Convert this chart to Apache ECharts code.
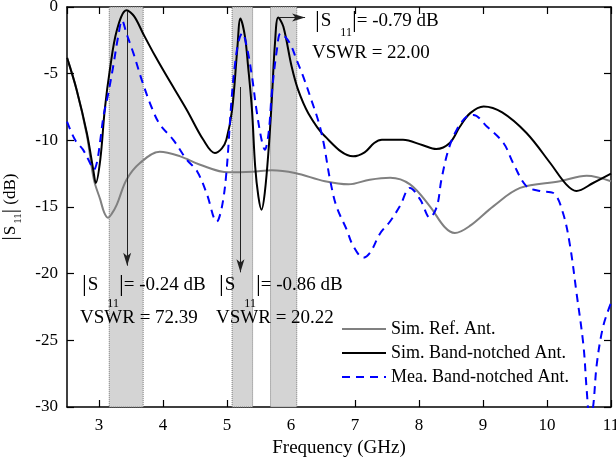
<!DOCTYPE html>
<html>
<head>
<meta charset="utf-8">
<script src="https://cdn.jsdelivr.net/npm/echarts@6/dist/echarts.min.js"></script>
<style>
  html, body { margin: 0; padding: 0; background: #fff; }
  #chart { width: 616px; height: 458px; }
</style>
</head>
<body>
<div id="chart"></div>
<script>
// frequency (GHz), |S11| (dB)
var simRef = [
  [2.5, -3.8], [2.65, -6.2], [2.81, -9.6], [2.92, -12.95], [3.02, -14.45], [3.08, -15.4],
  [3.14, -15.8], [3.2, -15.5], [3.28, -14.8], [3.43, -12.95], [3.64, -11.7], [3.95, -10.85],
  [4.27, -11.2], [4.58, -11.83], [5.02, -12.4], [5.4, -12.35], [5.7, -12.25],
  [6.06, -12.45], [6.53, -13.07], [6.9, -13.3], [7.23, -12.95], [7.55, -12.8], [7.86, -13.3],
  [8.17, -14.95], [8.4, -16.5], [8.56, -16.95], [8.8, -16.4], [9.16, -14.95],
  [9.58, -13.57], [10.2, -13.07], [10.62, -12.65], [11, -13.07]
];
var simNotch = [
  [2.5, -3.8], [2.65, -6.2], [2.81, -9.45], [2.91, -12.2], [2.95, -13.2], [3.02, -11.45],
  [3.09, -7.7], [3.17, -4.7], [3.28, -1.72], [3.43, -0.24], [3.55, -0.7], [3.69, -2.0],
  [3.88, -3.7], [4.06, -5.2], [4.37, -7.7], [4.63, -9.96], [4.81, -10.95], [4.92, -10.6],
  [4.99, -9.96], [5.08, -7.7], [5.16, -3.2], [5.21, -0.86], [5.28, -2.2], [5.33, -4.47],
  [5.39, -7.7], [5.44, -11.95], [5.49, -14.2], [5.54, -15.2], [5.59, -13.95], [5.65, -10.7],
  [5.7, -6.96], [5.75, -2.7], [5.8, -0.79], [5.88, -1.47], [6.01, -4.47], [6.11, -6.2],
  [6.27, -7.96], [6.53, -9.7], [6.97, -11.2], [7.15, -10.9], [7.3, -10.2], [7.42, -9.96],
  [7.75, -9.96], [8.05, -10.35], [8.27, -10.65], [8.48, -10.2], [8.64, -8.96], [8.8, -7.96],
  [9.01, -7.46], [9.3, -7.9], [9.68, -9.45], [10.05, -11.7], [10.3, -13.3], [10.46, -13.8],
  [10.72, -13.2], [11, -12.5]
];
var meaNotch = [
  [2.5, -8.6], [2.63, -10.0], [2.75, -10.7], [2.85, -11.6], [2.92, -12.2], [2.97, -11.6],
  [3.02, -10.0], [3.07, -8.2], [3.14, -6.6], [3.22, -4.5], [3.3, -2.2], [3.36, -1.0],
  [3.43, -2.0], [3.54, -3.5], [3.67, -5.5], [3.82, -7.5], [3.95, -8.8], [4.16, -9.96],
  [4.37, -11.45], [4.53, -12.3], [4.68, -13.95], [4.84, -16.1], [4.92, -15.0], [4.99, -12.45],
  [5.07, -7.0], [5.12, -4.5], [5.18, -2.6], [5.24, -1.95], [5.31, -3.0], [5.39, -5.2],
  [5.46, -7.7], [5.54, -9.96], [5.59, -10.7], [5.65, -9.45], [5.7, -6.46], [5.78, -3.2],
  [5.84, -1.97], [5.98, -2.7], [6.09, -4.0], [6.19, -5.2], [6.32, -7.0], [6.43, -8.6],
  [6.51, -10.2], [6.61, -12.95], [6.71, -14.95], [6.87, -16.7], [6.97, -17.9], [7.13, -18.8],
  [7.24, -18.4], [7.39, -17.0], [7.55, -16.07], [7.7, -14.95], [7.86, -13.57], [8.02, -14.45],
  [8.17, -15.8], [8.28, -14.95], [8.35, -12.95], [8.46, -10.7], [8.59, -9.2],
  [8.75, -8.2], [8.85, -8.1], [9.06, -8.96], [9.32, -10.2], [9.47, -11.7], [9.68, -13.45],
  [9.89, -13.8], [10.1, -13.95], [10.25, -15.45], [10.36, -17.9], [10.46, -21.4],
  [10.57, -25.4], [10.62, -28.7], [10.67, -31], [10.72, -30], [10.78, -26.7], [10.88, -23.9],
  [11, -22.2]
];
var seriesNames = ['Sim. Ref. Ant.', 'Sim. Band-notched Ant.', 'Mea. Band-notched Ant.'];

// notch bands (GHz)
var bands = [[3.16, 3.69], [5.08, 5.40], [5.68, 6.09]];
// arrows: [start, end]
var arrows = [
  [[3.44, -0.3], [3.44, -19.4]],
  [[5.21, -6.0], [5.21, -19.9]],
  [[5.81, -0.79], [6.22, -0.79]]
];
// annotation text: [label, x px, y px]
var notes = [
  ['{b||}{s|S}{sub|11}{b||}{t|= -0.79 dB}', 315, 21],
  ['{t|VSWR = 22.00}', 312, 53],
  ['{b||}{s|S}{subl|11}{b||}{t|= -0.24 dB}', 82, 285],
  ['{t|VSWR = 72.39}', 80, 318],
  ['{b||}{s|S}{subl|11}{b||}{t|= -0.86 dB}', 219, 285],
  ['{t|VSWR = 20.22}', 216, 318]
];

var FONT = 'Liberation Serif';
var richStyle = {
  t: { fontFamily: FONT, fontSize: 19, color: '#000', verticalAlign: 'middle' },
  s: { fontFamily: FONT, fontSize: 19, color: '#000', verticalAlign: 'middle', padding: [0, 0, 0, 1] },
  b: { fontFamily: FONT, fontSize: 24, color: '#000', verticalAlign: 'middle' },
  sub: { fontFamily: FONT, fontSize: 12, lineHeight: 12, color: '#000', verticalAlign: 'middle', padding: [24, 0, 0, 9] },
  subl: { fontFamily: FONT, fontSize: 12, lineHeight: 12, color: '#000', verticalAlign: 'middle', padding: [38, 0, 0, 9] }
};
var richName = {
  t: { fontFamily: FONT, fontSize: 17, color: '#000', verticalAlign: 'middle' },
  s: { fontFamily: FONT, fontSize: 17, color: '#000', verticalAlign: 'middle', padding: [0, 0, 0, 1] },
  b: { fontFamily: FONT, fontSize: 21, color: '#000', verticalAlign: 'middle' },
  sub: { fontFamily: FONT, fontSize: 11, lineHeight: 11, color: '#000', verticalAlign: 'middle', padding: [15, 0, 0, 2] }
};

var chart = echarts.init(document.getElementById('chart'));

var axisCommon = {
  axisLine: { onZero: false, lineStyle: { color: '#000', width: 1.5 } },
  axisTick: { inside: true, length: 7, lineStyle: { color: '#000', width: 1.2 } },
  splitLine: { show: false }
};

var option = {
  backgroundColor: '#fff',
  animation: false,
  grid: { left: 67, top: 7, right: 5, bottom: 51, containLabel: false, outerBoundsMode: 'none' },
  xAxis: [
    Object.assign({
      type: 'value', min: 2.5, max: 11, splitNumber: 8,
      name: 'Frequency (GHz)', nameLocation: 'middle', nameGap: 27,
      nameTextStyle: { fontFamily: FONT, fontSize: 19, color: '#000' },
      axisLabel: { showMinLabel: false, fontFamily: FONT, fontSize: 17, color: '#000', margin: 10 }
    }, axisCommon),
    Object.assign({
      type: 'value', min: 2.5, max: 11, splitNumber: 8, position: 'top',
      axisLabel: { show: false }
    }, axisCommon)
  ],
  yAxis: [
    Object.assign({
      type: 'value', min: -30, max: 0, interval: 5,
      name: '{b||}{s|S}{sub|11}{b||}{t| (dB)}', nameLocation: 'middle', nameGap: 46, nameRotate: 90,
      nameTextStyle: { rich: richName },
      axisLabel: { fontFamily: FONT, fontSize: 17, color: '#000', margin: 9 }
    }, axisCommon),
    Object.assign({
      type: 'value', min: -30, max: 0, interval: 5, position: 'right',
      axisLabel: { show: false }
    }, axisCommon)
  ],
  legend: {
    data: seriesNames,
    orient: 'vertical',
    left: 336, top: 315,
    itemWidth: 44, itemHeight: 12, itemGap: 6,
    itemStyle: { opacity: 0 },
    textStyle: { fontFamily: FONT, fontSize: 18, color: '#000' }
  },
  graphic: notes.map(function (n) {
    return {
      type: 'text', x: n[1], y: n[2], z: 50,
      style: { text: n[0], rich: richStyle, verticalAlign: 'middle' }
    };
  }),
  series: [
    {
      name: 'bands', type: 'line', data: [], z: 1, silent: true,
      markArea: {
        silent: true,
        itemStyle: { color: '#d4d4d4', borderColor: '#777', borderWidth: 1, borderType: 'dotted' },
        data: bands.map(function (b) { return [{ xAxis: b[0] }, { xAxis: b[1] }]; })
      }
    },
    {
      name: seriesNames[0], type: 'line', data: simRef, z: 3,
      showSymbol: false, symbol: 'none', smooth: 0.35,
      lineStyle: { color: '#808080', width: 2 }, itemStyle: { color: '#808080' }
    },
    {
      name: seriesNames[1], type: 'line', data: simNotch, z: 4,
      showSymbol: false, symbol: 'none', smooth: 0.35,
      lineStyle: { color: '#000', width: 2 }, itemStyle: { color: '#000' }
    },
    {
      name: seriesNames[2], type: 'line', data: meaNotch, z: 5,
      showSymbol: false, symbol: 'none', smooth: 0.35,
      lineStyle: { color: '#0000ff', width: 2, type: [8, 6] }, itemStyle: { color: '#0000ff' }
    },
    {
      name: 'arrows', type: 'line', data: [], z: 6, silent: true,
      markLine: {
        silent: true,
        symbol: ['none', 'arrow'], symbolSize: [6, 13],
        label: { show: false },
        lineStyle: { color: '#222', width: 1, type: 'solid' },
        data: arrows.map(function (a) { return [{ coord: a[0] }, { coord: a[1] }]; })
      }
    }
  ]
};

chart.setOption(option);
</script>
</body>
</html>
